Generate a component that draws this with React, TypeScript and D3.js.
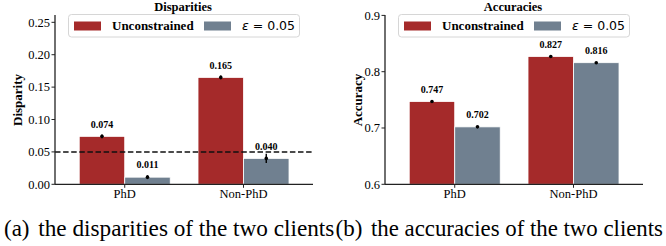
import React from 'react';
import * as d3 from 'd3';

// categories and series
const groups = ['PhD', 'Non-PhD'];
const seriesNames = ['Unconstrained', 'eps'];
const disparityUnc = [0.074, 0.165];
const disparityEps = [0.011, 0.040];
const disparityErrUnc = [0.003, 0.003];
const disparityErrEps = [0.003, 0.007];
const accuracyUnc = [0.747, 0.827];
const accuracyEps = [0.702, 0.816];
const accuracyErrUnc = [0.001, 0.001];
const accuracyErrEps = [0.001, 0.001];
const disparityTicks = [0, 0.05, 0.1, 0.15, 0.2, 0.25];
const accuracyTicks = [0.6, 0.7, 0.8, 0.9];
const threshold = 0.05;

const colors = ['#a52a2a', '#708090'];
const serif = 'Liberation Serif, Times New Roman, serif';
const mathFont = 'DejaVu Sans, sans-serif';

interface PanelProps {
  ox: number;
  title: string;
  ylabel: string;
  ylabelX: number;
  domain: [number, number];
  ticks: number[];
  fmt: string;
  unc: number[];
  eps: number[];
  errUnc: number[];
  errEps: number[];
  hline?: number;
}

const Panel: React.FC<PanelProps> = (p) => {
  const x0 = p.ox + 55;
  const x1 = p.ox + 313;
  const yTop = 15;
  const yBot = 184.3;
  const barW = 0.383;

  const x = d3.scaleLinear().domain([-0.587, 1.585]).range([x0, x1]);
  const y = d3.scaleLinear().domain(p.domain).range([yBot, yTop]);
  const f = d3.format(p.fmt);
  const series = [p.unc, p.eps];
  const errs = [p.errUnc, p.errEps];

  return (
    <g>
      {/* bars */}
      {series.map((vals, si) =>
        vals.map((v, gi) => {
          const left = x(gi + (si === 0 ? -barW : 0));
          const right = x(gi + (si === 0 ? 0 : barW));
          return (
            <rect key={`b${si}${gi}`} x={left} y={y(v)} width={right - left}
              height={yBot - y(v)} fill={colors[si]} stroke="#fff" strokeWidth={0.8} />
          );
        })
      )}
      {/* threshold line */}
      {p.hline !== undefined && (
        <line x1={x0} x2={x1} y1={y(p.hline)} y2={y(p.hline)} stroke="#111"
          strokeWidth={1.5} strokeDasharray="5.5,2.6" />
      )}
      {/* error bars + labels */}
      {series.map((vals, si) =>
        vals.map((v, gi) => {
          const cx = x(gi + (si === 0 ? -barW / 2 : barW / 2));
          const e = errs[si][gi];
          return (
            <g key={`e${si}${gi}`}>
              <line x1={cx} x2={cx} y1={y(v - e)} y2={y(v + e)} stroke="#000" strokeWidth={1.4} />
              <circle cx={cx} cy={y(v)} r={1.8} fill="#000" />
              <text x={cx} y={y(v) - 8.7} textAnchor="middle" fontFamily={serif}
                fontWeight="bold" fontSize={10}>{v.toFixed(3)}</text>
            </g>
          );
        })
      )}
      {/* axes */}
      <line x1={x0} x2={x0} y1={yTop} y2={yBot} stroke="#222" strokeWidth={1.3} />
      <line x1={x0} x2={x1} y1={yBot} y2={yBot} stroke="#222" strokeWidth={1.3} />
      {p.ticks.map((t) => (
        <g key={`yt${t}`}>
          <line x1={x0 - 3.5} x2={x0} y1={y(t)} y2={y(t)} stroke="#222" strokeWidth={1} />
          <text x={x0 - 5} y={y(t)} dy="0.35em" textAnchor="end" fontFamily={serif}
            fontSize={12.5}>{f(t)}</text>
        </g>
      ))}
      {groups.map((g, gi) => (
        <g key={`xt${g}`}>
          <line x1={x(gi)} x2={x(gi)} y1={yBot} y2={yBot + 3.5} stroke="#222" strokeWidth={1} />
          <text x={x(gi)} y={yBot + 13.5} textAnchor="middle" fontFamily={serif}
            fontSize={12.5}>{g}</text>
        </g>
      ))}
      <text transform={`translate(${p.ylabelX},${100}) rotate(-90)`} textAnchor="middle"
        dy="0.35em" fontFamily={serif} fontWeight="bold" fontSize={13}>{p.ylabel}</text>
      <text x={p.ox + 183} y={11} textAnchor="middle" fontFamily={serif} fontWeight="bold"
        fontSize={12.5}>{p.title}</text>
      {/* legend */}
      <g>
        <rect x={p.ox + 68.5} y={14.5} width={231} height={22.5} rx={3} fill="#fff"
          fillOpacity={0.85} stroke="#d6d6d6" strokeWidth={1} />
        {seriesNames.map((s, si) => (
          <rect key={`lp${s}`} x={p.ox + (si === 0 ? 74 : 204)} y={21.5} width={27} height={9}
            fill={colors[si]} />
        ))}
        <text x={p.ox + 112} y={30} fontFamily={serif} fontWeight="bold" fontSize={13}>Unconstrained</text>
        <text x={p.ox + 242} y={30} fontFamily={mathFont} fontSize={12.5}>
          <tspan fontStyle="italic">ε</tspan> = 0.05
        </text>
      </g>
    </g>
  );
};

const App: React.FC = () => {
  return (
    <div style={{ position: 'fixed', left: 0, top: 0 }}>
      <svg width={666} height={246} style={{ display: 'block', background: '#fff' }}>
        <Panel ox={0} title="Disparities" ylabel="Disparity" ylabelX={17}
          domain={[0, 0.2613]} ticks={disparityTicks} fmt=".2f"
          unc={disparityUnc} eps={disparityEps} errUnc={disparityErrUnc}
          errEps={disparityErrEps} hline={threshold} />
        <Panel ox={330} title="Accuracies" ylabel="Accuracy" ylabelX={357}
          domain={[0.6, 0.9007]} ticks={accuracyTicks} fmt=".1f"
          unc={accuracyUnc} eps={accuracyEps} errUnc={accuracyErrUnc}
          errEps={accuracyErrEps} />
        <text x={4} y={236} fontFamily={serif} fontSize={23}>(a)</text>
        <text x={38.3} y={236} fontFamily={serif} fontSize={23} textLength={296}
          lengthAdjust="spacingAndGlyphs">the disparities of the two clients</text>
        <text x={335.5} y={236} fontFamily={serif} fontSize={23}>(b)</text>
        <text x={371} y={236} fontFamily={serif} fontSize={23} textLength={292}
          lengthAdjust="spacingAndGlyphs">the accuracies of the two clients</text>
      </svg>
    </div>
  );
};

export default App;
